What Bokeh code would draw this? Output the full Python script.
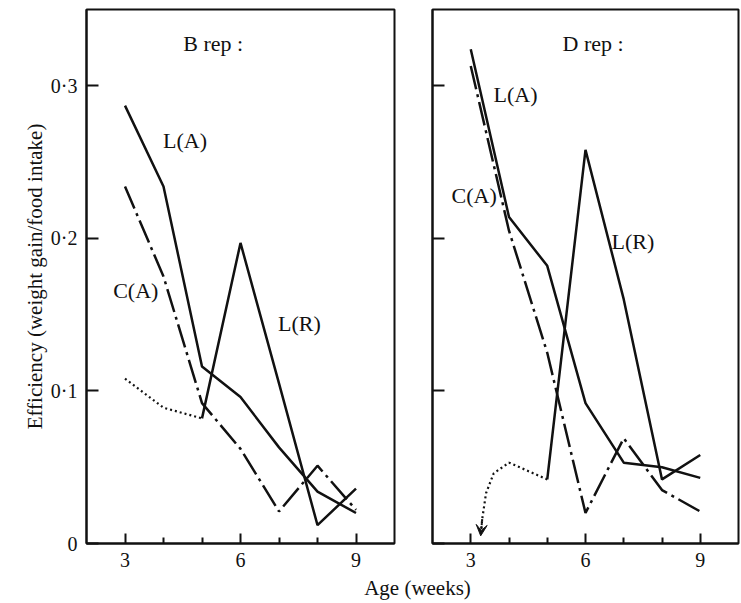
from bokeh.plotting import figure
from bokeh.models import Range1d, FixedTicker, Label, Arrow, VeeHead
from bokeh.layouts import row, column
from bokeh.embed import file_html
from bokeh.resources import INLINE

# ---------------- data ----------------
weeks = [3, 4, 5, 6, 7, 8, 9]
lr_weeks = [5, 6, 7, 8, 9]

# B rep
b_pre_weeks = [3, 4, 5]
b_pre = [0.108, 0.089, 0.082]
b_la = [0.287, 0.234, 0.116, 0.096, 0.063, 0.034, 0.020]
b_ca = [0.234, 0.175, 0.092, 0.062, 0.021, 0.051, 0.022]
b_lr = [0.082, 0.197, 0.105, 0.012, 0.036]

# D rep
d_pre_weeks = [5, 4, 3.6, 3.4, 3.3, 3.26]
d_pre = [0.042, 0.053, 0.046, 0.033, 0.016, 0.005]
d_la = [0.324, 0.214, 0.182, 0.092, 0.053, 0.050, 0.043]
d_ca = [0.313, 0.205, 0.125, 0.020, 0.069, 0.035, 0.021]
d_lr = [0.042, 0.258, 0.160, 0.042, 0.058]

x_ticks = [3, 6, 9]
x_minor = [4, 5, 7, 8]
y_ticks = [0, 0.1, 0.2, 0.3]
y_tick_labels = ["0", "0·1", "0·2", "0·3"]

FONT = "Liberation Serif"
H = 569
INK = "#111111"


def panel(width, bl, br, show_labels):
    p = figure(width=width, height=H, x_range=Range1d(2, 10), y_range=Range1d(0, 0.35),
               output_backend="svg", toolbar_location=None,
               min_border_left=bl, min_border_right=br, min_border_top=9, min_border_bottom=0)
    p.grid.visible = False
    p.outline_line_color = INK
    p.outline_line_width = 2
    for ax in (p.xaxis[0], p.yaxis[0]):
        ax.axis_line_width = 2
        ax.axis_line_color = INK
        ax.major_tick_line_width = 2
        ax.major_tick_line_color = INK
        ax.minor_tick_line_width = 2
        ax.minor_tick_line_color = INK
        ax.major_tick_out = 0
        ax.minor_tick_out = 0
        ax.major_label_text_font = FONT
        ax.major_label_text_font_size = "20px"
        ax.major_label_text_color = INK
        ax.axis_label_text_font = FONT
        ax.axis_label_text_font_size = "21px"
        ax.axis_label_text_font_style = "normal"
        ax.axis_label_text_color = INK
    p.xaxis.ticker = FixedTicker(ticks=x_ticks, minor_ticks=x_minor)
    p.xaxis.major_tick_in = 10
    p.xaxis.minor_tick_in = 6
    p.xaxis.major_label_standoff = 9
    p.yaxis.ticker = FixedTicker(ticks=y_ticks, minor_ticks=[])
    p.yaxis.major_tick_in = 12
    p.yaxis.minor_tick_in = 0
    p.yaxis.major_label_standoff = 9
    if show_labels:
        p.yaxis.major_label_overrides = {t: s for t, s in zip(y_ticks, y_tick_labels)}
    else:
        p.yaxis.major_label_overrides = {t: "" for t in y_ticks}
    return p


def lab(p, text, x, y):
    p.add_layout(Label(x=x, y=y, text=text, text_font=FONT, text_font_size="22px",
                       text_color=INK, text_align="center", text_baseline="middle"))


def draw(p, pre_w, pre, la, ca, lr):
    p.line(pre_w, pre, line_color=INK, line_width=2.2, line_dash="2 3")
    p.line(weeks, la, line_color=INK, line_width=2.5)
    p.line(weeks, ca, line_color=INK, line_width=2.5, line_dash="24 5 3 5")
    p.line(lr_weeks, lr, line_color=INK, line_width=2.5)


p1 = panel(412, 86, 18, True)
p1.yaxis.axis_label = "Efficiency (weight gain/food intake)"
p1.yaxis.axis_label_standoff = 1
draw(p1, b_pre_weeks, b_pre, b_la, b_ca, b_lr)
lab(p1, "B rep :", 5.29, 0.328)
lab(p1, "L(A)", 4.56, 0.264)
lab(p1, "C(A)", 3.28, 0.166)
lab(p1, "L(R)", 7.53, 0.144)

p2 = panel(328, 20, 2, False)
draw(p2, d_pre_weeks, d_pre, d_la, d_ca, d_lr)
p2.add_layout(Arrow(x_start=d_pre_weeks[-2], y_start=d_pre[-2],
                    x_end=d_pre_weeks[-1], y_end=d_pre[-1],
                    line_color=INK, line_width=2, line_dash="2 2",
                    end=VeeHead(size=11, fill_color=INK, line_color=INK, line_width=1)))
lab(p2, "D rep :", 6.2, 0.328)
lab(p2, "L(A)", 4.17, 0.294)
lab(p2, "C(A)", 3.09, 0.228)
lab(p2, "L(R)", 7.24, 0.198)

p3 = figure(width=740, height=32, x_range=Range1d(0, 740), y_range=Range1d(0, 1),
            output_backend="svg", toolbar_location=None,
            x_axis_location=None, y_axis_location=None,
            min_border=0, outline_line_color=None)
p3.grid.visible = False
p3.add_layout(Label(x=417, y=0.42, text="Age (weeks)",
                    text_font=FONT, text_font_size="21px", text_color=INK,
                    text_align="center", text_baseline="middle"))

layout = column(row(p1, p2), p3)
open("out.html", "w").write(file_html(layout, INLINE))
